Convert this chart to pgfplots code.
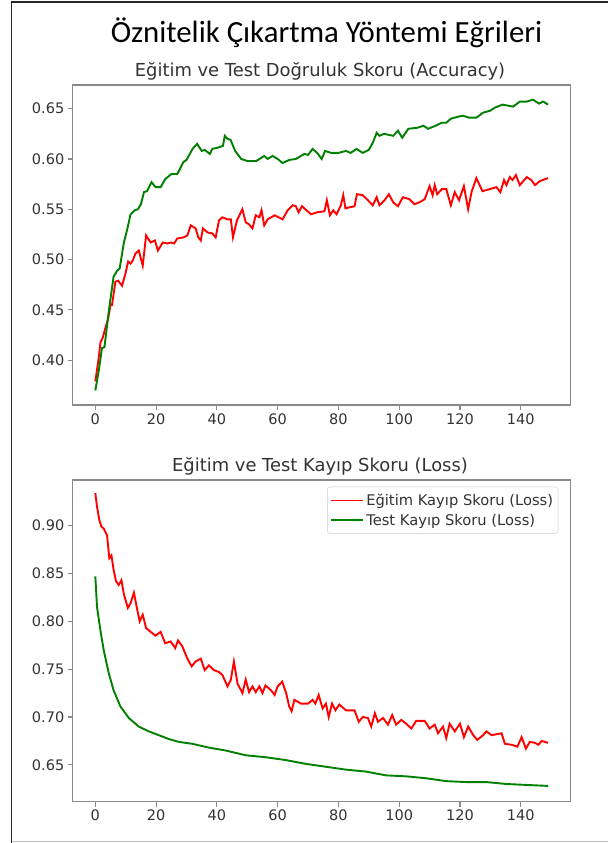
\documentclass[border=0pt]{standalone}
\usepackage{fontspec}
\usepackage{pgfplots}
\pgfplotsset{compat=1.18}
\setmainfont{DejaVu Sans}
\newfontfamily\carlito{Carlito}

\definecolor{mplgreen}{HTML}{008000}
\definecolor{spine}{HTML}{8A8A8A}
\definecolor{txt}{HTML}{333333}

% test and train accuracy
\pgfplotstableread{
x y
0 0.370
1.1 0.389
2.2 0.412
3 0.413
4.4 0.448
6 0.483
7.2 0.489
8 0.491
9.4 0.517
10.5 0.530
11.6 0.545
13 0.549
14 0.550
15 0.555
16 0.567
17 0.568
18.5 0.577
19.8 0.572
21.5 0.572
23 0.580
25 0.585
27 0.585
29 0.597
30 0.599
32 0.610
33.5 0.615
35 0.608
36 0.609
37.7 0.605
38.5 0.610
40 0.611
42 0.613
42.6 0.623
43.5 0.620
44.5 0.619
46 0.608
48 0.600
50 0.598
53 0.598
54 0.600
55.6 0.603
56.7 0.600
58.3 0.603
60 0.600
61.6 0.596
63.8 0.599
66 0.600
68.8 0.605
70 0.604
71.5 0.610
73 0.606
74.5 0.600
75.6 0.608
77.6 0.606
80 0.606
82.5 0.608
84 0.606
86 0.610
88 0.606
90 0.609
91.3 0.616
92.6 0.626
93.5 0.623
95 0.625
98 0.623
99.6 0.628
101 0.621
103 0.630
106 0.631
108 0.633
109.5 0.630
112 0.633
114 0.636
115.5 0.636
117 0.640
119.4 0.642
121 0.643
123 0.641
125.4 0.641
127.6 0.646
130 0.648
131.5 0.651
134 0.654
137.5 0.652
139.7 0.657
142 0.657
144 0.659
146 0.655
147.4 0.657
149 0.654
}\testacc

\pgfplotstableread{
x y
0 0.379
1.1 0.402
1.7 0.418
2.4 0.422
3.3 0.432
4.2 0.441
5 0.455
5.5 0.455
6.6 0.478
7.5 0.479
8.8 0.474
9.9 0.486
10.8 0.498
11.6 0.496
12.3 0.499
13.2 0.506
14.3 0.509
15.6 0.494
16.7 0.524
18.2 0.517
19.6 0.519
20.6 0.509
22.2 0.517
23.7 0.516
24.8 0.517
25.9 0.516
27 0.521
29 0.522
30.3 0.524
31.4 0.534
33 0.531
33.9 0.522
34.7 0.519
35.4 0.531
36.9 0.527
38.5 0.526
39.6 0.522
40.7 0.539
41.8 0.542
43.5 0.540
44.6 0.540
45.3 0.522
46.6 0.539
48.4 0.550
49.5 0.537
50.6 0.535
51.7 0.531
52.8 0.544
54 0.542
54.7 0.549
55.6 0.534
56.7 0.540
59 0.544
61.6 0.540
63.3 0.549
65 0.554
66 0.553
66.9 0.547
68 0.553
71 0.545
73 0.547
75.4 0.548
76.2 0.559
77.2 0.544
78.3 0.549
79.4 0.545
80.8 0.554
81.6 0.564
82.3 0.551
85.3 0.553
86.1 0.565
88 0.564
89.7 0.559
91.3 0.554
92.6 0.562
93.5 0.554
95.2 0.559
96.6 0.565
98 0.557
99.6 0.553
101.2 0.562
103.4 0.560
105 0.555
106.7 0.557
108.4 0.560
110 0.573
111 0.564
111.7 0.574
112.5 0.565
114 0.570
115.5 0.570
117 0.554
118.3 0.567
119.7 0.559
121.3 0.573
122.7 0.550
123.8 0.567
125.4 0.581
127.4 0.568
129.8 0.570
132 0.572
133.3 0.567
134.5 0.579
135.3 0.574
136.4 0.582
137.3 0.579
138.4 0.584
139.7 0.574
142 0.582
143.5 0.579
144.7 0.574
146.3 0.578
149 0.581
}\trainacc

% train and test loss
\pgfplotstableread{
x y
0 0.934
0.55 0.920
1.3 0.906
2 0.899
2.75 0.897
3.85 0.890
4.6 0.866
5.3 0.869
6 0.854
6.8 0.842
7.7 0.838
8.6 0.843
9.35 0.829
10.7 0.814
11.6 0.819
12.7 0.830
13.8 0.812
14.6 0.800
15.6 0.807
16.7 0.793
18.2 0.789
19.8 0.785
21.5 0.789
23 0.777
24.8 0.779
26.3 0.772
27.2 0.780
28.6 0.774
30.3 0.761
31.7 0.753
33 0.758
34.7 0.761
36 0.749
37.4 0.754
39 0.749
40.7 0.747
41.8 0.744
43.5 0.732
44.6 0.739
45.6 0.758
46.8 0.735
48.4 0.725
49.5 0.739
50.6 0.726
51.7 0.732
52.8 0.726
54 0.732
55 0.725
56 0.733
57.8 0.728
59 0.723
60 0.732
61.5 0.737
62.8 0.725
63.8 0.711
64.6 0.706
65.5 0.718
67.7 0.714
70 0.714
71.5 0.718
72.4 0.714
73.5 0.723
74.8 0.709
75.9 0.714
76.8 0.700
77.9 0.714
79 0.707
80.3 0.713
82.5 0.707
85.3 0.707
86.7 0.695
88 0.700
89.7 0.699
90.8 0.690
92 0.704
93 0.695
94.7 0.699
96.3 0.692
97.7 0.702
99 0.692
100.7 0.697
102.3 0.693
104 0.688
105.6 0.696
108.4 0.696
110 0.688
111.7 0.692
112.8 0.683
114.4 0.690
115.5 0.678
116.6 0.693
118.3 0.685
120 0.693
121.3 0.679
122.7 0.690
124.4 0.681
125.7 0.676
127.6 0.681
128.7 0.685
130.4 0.681
133.7 0.683
134.8 0.672
137 0.671
138.9 0.669
140.3 0.679
141.7 0.667
143 0.674
144.7 0.673
145.8 0.671
146.9 0.675
149 0.673
}\trainloss

\pgfplotstableread{
x y
0 0.847
0.55 0.815
1.65 0.791
2.75 0.770
4.4 0.746
6 0.728
8.25 0.711
11 0.699
14.3 0.690
17.6 0.685
20.9 0.681
24.2 0.677
27.5 0.674
31.9 0.672
37.4 0.668
42.9 0.665
49.5 0.660
56 0.658
62.7 0.655
69.3 0.651
75.9 0.648
82.5 0.645
89 0.643
95.7 0.639
102.3 0.638
108.9 0.636
115.5 0.633
122 0.632
128.7 0.632
135.3 0.630
142 0.629
149 0.628
}\testloss

\pgfplotsset{
  mplaxis/.style={
    scale only axis,
    width=498pt,
    xmin=-7.45, xmax=156.45,
    xtick={0,20,...,140},
    tick align=outside,
    tick pos=left,
    major tick length=4.9pt,
    axis line style={spine, line width=1.1pt},
    tick style={spine, line width=1.1pt},
    /pgf/number format/assume math mode=true,
    ticklabel style={font=\fontsize{14.5}{17}\selectfont, text=txt},
    yticklabel style={/pgf/number format/fixed, /pgf/number format/precision=2,
      /pgf/number format/fixed zerofill},
    scaled y ticks=false,
    clip=true,
  },
}

\begin{document}
\begin{tikzpicture}[x=1pt,y=1pt]
\useasboundingbox (0,0) rectangle (608,843);
\fill[white] (0,0) rectangle (608,843);
% frame of the screenshot
\draw[black!85, line width=1.4pt] (11.5,0) -- (11.5,841) -- (608,841);
\draw[black!25, line width=1pt] (11.5,1.5) -- (608,1.5);

\node[anchor=base, font=\carlito\fontsize{30.8}{34}\selectfont] at (326.5,800) {Öznitelik Çıkartma Yöntemi Eğrileri};
\node[anchor=base, text=txt, font=\fontsize{17.9}{21}\selectfont] at (320,766.3) {Eğitim ve Test Doğruluk Skoru (Accuracy)};
\node[anchor=base, text=txt, font=\fontsize{17.9}{21}\selectfont] at (320,371.3) {Eğitim ve Test Kayıp Skoru (Loss)};

\begin{axis}[mplaxis,
  at={(72.7pt,438pt)}, anchor=south west,
  height=320pt,
  ymin=0.3555, ymax=0.6735,
  ytick={0.40,0.45,...,0.66},
]
\addplot[red, line width=1.9pt] table {\trainacc};
\addplot[mplgreen, line width=1.9pt] table {\testacc};
\end{axis}

\begin{axis}[mplaxis,
  at={(72.7pt,41.3pt)}, anchor=south west,
  height=321.7pt,
  ymin=0.6115, ymax=0.9477,
  ytick={0.65,0.70,...,0.91},
  legend style={at={(0.975,0.979)}, anchor=north east, draw=black!20,
    rounded corners=3pt, fill=white, text=txt,
    font=\fontsize{14.7}{17}\selectfont,
    inner xsep=3pt, inner ysep=5pt, row sep=3pt,
    cells={anchor=west}},
  legend image code/.code={\draw[#1, line width=1.9pt] (0pt,0pt) -- (32pt,0pt);},
]
\addplot[red, line width=1.9pt] table {\trainloss};
\addlegendentry{Eğitim Kayıp Skoru (Loss)}
\addplot[mplgreen, line width=1.9pt] table {\testloss};
\addlegendentry{Test Kayıp Skoru (Loss)}
\end{axis}
\end{tikzpicture}
\end{document}
